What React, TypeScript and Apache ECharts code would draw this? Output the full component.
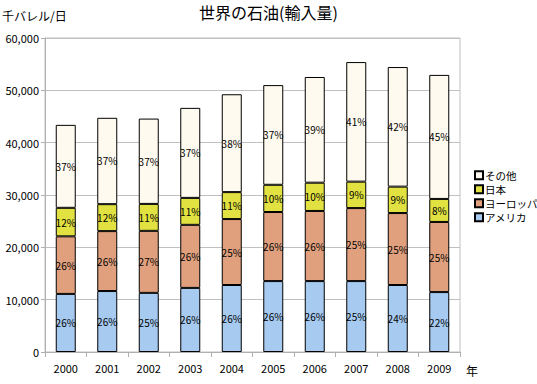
import React, { useEffect, useRef } from "react";
import * as echarts from "echarts";

const years = ["2000", "2001", "2002", "2003", "2004", "2005", "2006", "2007", "2008", "2009"];
const seriesNames = ["アメリカ", "ヨーロッパ", "日本", "その他"];
const america = [11100, 11650, 11300, 12250, 12800, 13550, 13550, 13550, 12800, 11450];
const europe = [11000, 11450, 11850, 12050, 12600, 13200, 13400, 13950, 13750, 13400];
const japan = [5450, 5150, 5150, 5150, 5150, 5200, 5400, 5050, 5050, 4400];
const others = [15850, 16500, 16300, 17200, 18700, 19050, 20200, 22850, 22850, 23700];
const americaPct = [26, 26, 25, 26, 26, 26, 26, 25, 24, 22];
const europePct = [26, 26, 27, 26, 25, 26, 26, 25, 25, 25];
const japanPct = [12, 12, 11, 11, 11, 10, 10, 9, 9, 8];
const othersPct = [37, 37, 37, 37, 38, 37, 39, 41, 42, 45];
const yTicks = { min: 0, max: 60000, interval: 10000 };

const colors = ["#A6CAF0", "#E0A07E", "#E1E141", "#FFFAEF"];
const FONT = "'Noto Sans CJK JP', sans-serif";

export default function App() {
  const ref = useRef<HTMLDivElement>(null);
  useEffect(() => {
    if (!ref.current) return;
    const chart = echarts.init(ref.current, null, { renderer: "svg" });
    const values = [america, europe, japan, others];
    const pcts = [americaPct, europePct, japanPct, othersPct];
    chart.setOption({
      animation: false,
      backgroundColor: "#ffffff",
      textStyle: { fontFamily: FONT },
      grid: {
        left: 45,
        right: 77,
        top: 38,
        bottom: 32,
        show: true,
        borderColor: "#c0c0c0",
        borderWidth: 1,
        backgroundColor: "transparent",
      },
      legend: {
        orient: "vertical",
        left: 474,
        top: 170,
        padding: 0,
        itemWidth: 8,
        itemHeight: 8,
        itemGap: 3.5,
        icon: "rect",
        data: ["その他", "日本", "ヨーロッパ", "アメリカ"],
        textStyle: {
          fontSize: 10.5,
          lineHeight: 8,
          color: "#000",
          fontFamily: FONT,
          padding: [0, 0, 0, -3],
        },
      },
      xAxis: {
        type: "category",
        data: years,
        axisLine: { lineStyle: { color: "#b0b0b0" } },
        axisTick: { show: true, length: 5, lineStyle: { color: "#b0b0b0" } },
        axisLabel: { color: "#000", fontSize: 11, margin: 10, fontFamily: FONT },
      },
      yAxis: {
        type: "value",
        min: yTicks.min,
        max: yTicks.max,
        interval: yTicks.interval,
        axisLine: { show: true, lineStyle: { color: "#b0b0b0" } },
        axisTick: { show: true, length: 4, lineStyle: { color: "#b0b0b0" } },
        axisLabel: {
          color: "#000",
          fontSize: 11,
          margin: 6,
          fontFamily: FONT,
          formatter: (v: number) => v.toLocaleString("en-US"),
        },
        splitLine: { lineStyle: { color: "#c0c0c0" } },
      },
      graphic: [
        {
          type: "text",
          left: 199,
          top: 4,
          style: {
            text: "世界の石油(輸入量)",
            fontSize: 16,
            fontWeight: "normal",
            fill: "#000",
            fontFamily: FONT,
          },
        },
        {
          type: "text",
          left: 2,
          top: 9,
          style: { text: "千バレル/日", fontSize: 12, fill: "#000", fontFamily: FONT },
        },
        {
          type: "text",
          left: 466,
          top: 364,
          style: { text: "年", fontSize: 12, fill: "#000", fontFamily: FONT },
        },
      ],
      series: seriesNames.map((name, i) => ({
        name,
        type: "bar",
        stack: "total",
        barWidth: 20,
        data: values[i],
        itemStyle: { color: colors[i], borderColor: "#000", borderWidth: 1 },
        label: {
          show: true,
          position: "inside",
          color: "#000",
          fontSize: 10,
          fontFamily: FONT,
          formatter: (p: any) => pcts[i][p.dataIndex] + "%",
        },
      })),
    });
    return () => chart.dispose();
  }, []);
  return <div ref={ref} style={{ position: "fixed", left: 0, top: 0, width: 537, height: 384 }} />;
}
